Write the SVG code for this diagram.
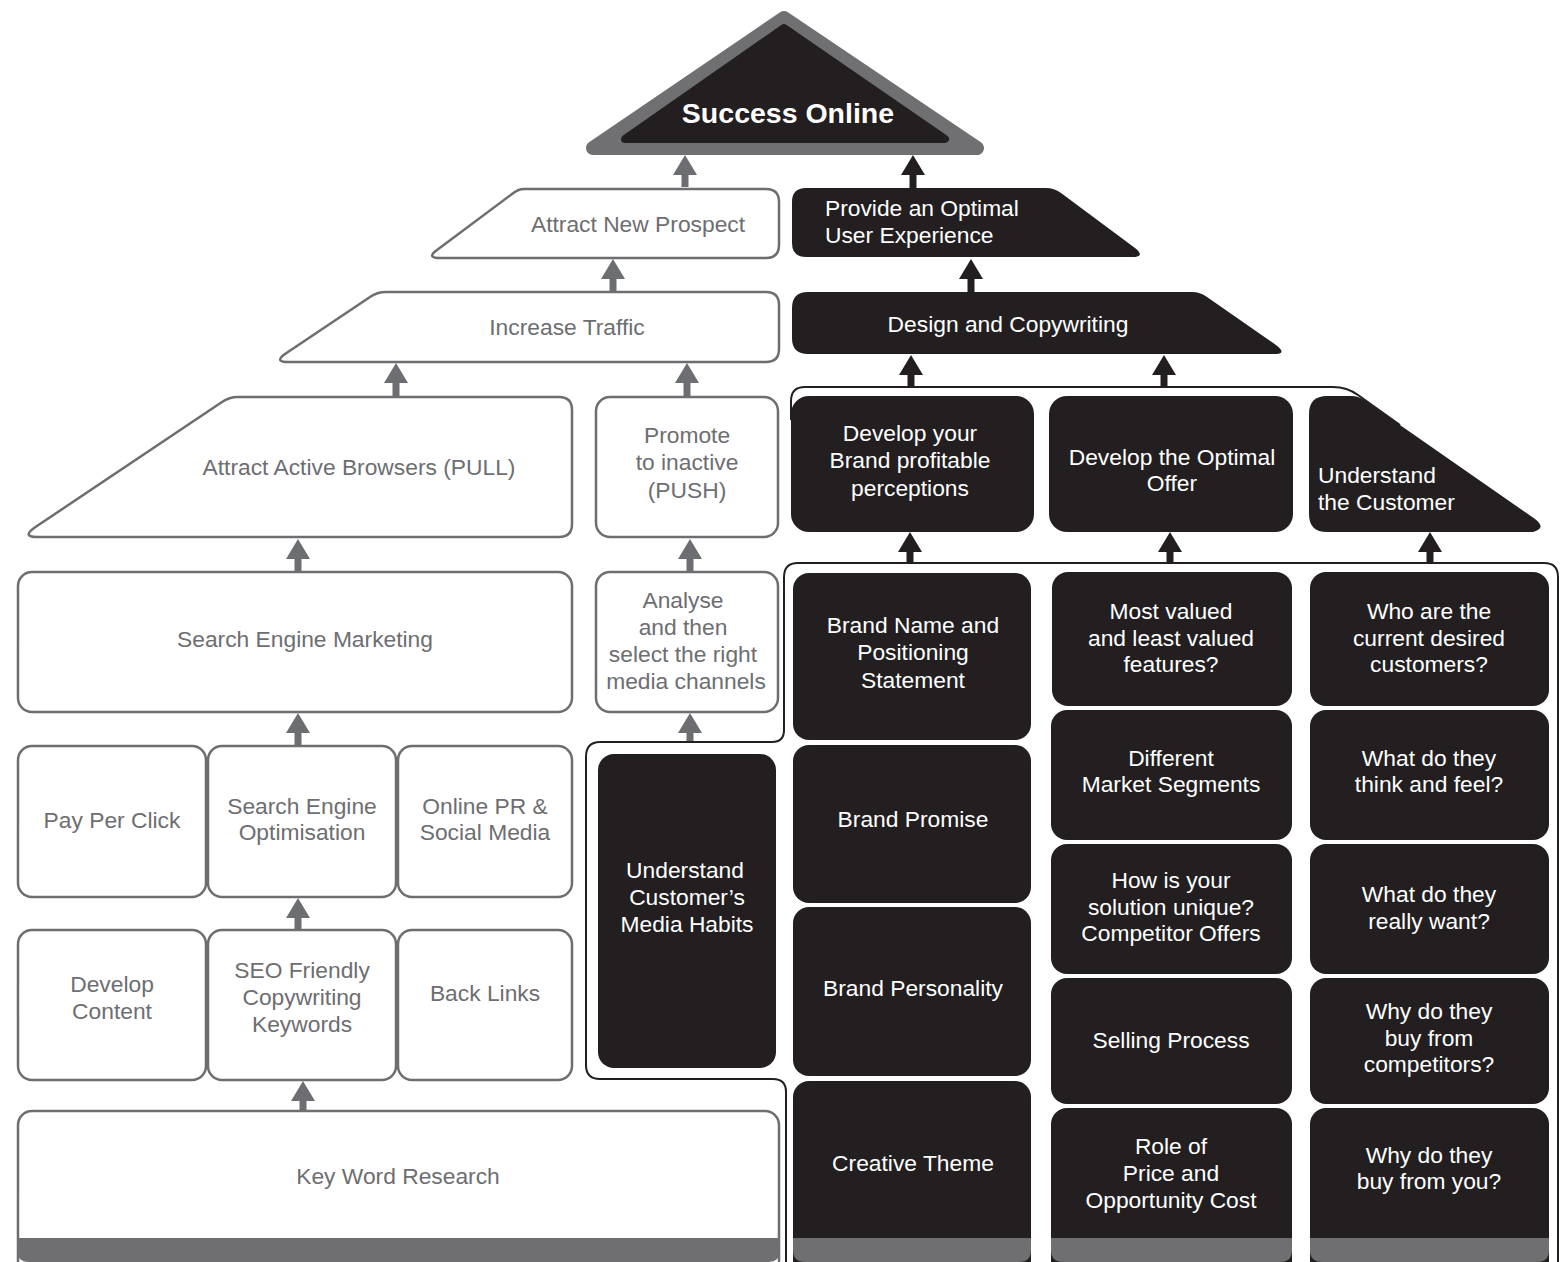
<svg xmlns="http://www.w3.org/2000/svg" width="1564" height="1262" viewBox="0 0 1564 1262">
<style>
.w{fill:#fff;stroke:#6d6e71;stroke-width:2.5}
.b{fill:#231f20}
.band{fill:#6f6f72}
.tg{font-family:"Liberation Sans",Arial,sans-serif;font-size:22.8px;fill:#6d6e71;text-anchor:middle}
.tw{font-family:"Liberation Sans",Arial,sans-serif;font-size:22.8px;fill:#fff;text-anchor:middle}
.tl{text-anchor:start}
.ag{fill:#6d6e71}
.ab{fill:#231f20}
.ol{fill:none;stroke:#231f20;stroke-width:2}
</style>
<rect width="1564" height="1262" fill="#fff"/>

<g id="roof">
<polygon points="593,148 784,18 977,148" fill="#707072" stroke="#707072" stroke-width="14" stroke-linejoin="round"/>
<polygon points="625,139 784,28 945,139" fill="#231f20" stroke="#231f20" stroke-width="8" stroke-linejoin="round"/>
<text x="788" y="123" font-family="Liberation Sans,Arial,sans-serif" font-size="28.5" font-weight="bold" fill="#fff" text-anchor="middle">Success Online</text>
</g>

<g id="connectors">
<path class="ag" d="M685,155 l12,20 h-8.5 v12 h-7 v-12 h-8.5z"/>
<path class="ag" d="M613,259 l12,20 h-8.5 v13 h-7 v-13 h-8.5z"/>
<path class="ag" d="M396,363 l12,20 h-8.5 v13 h-7 v-13 h-8.5z"/>
<path class="ag" d="M687,363 l12,20 h-8.5 v13 h-7 v-13 h-8.5z"/>
<path class="ag" d="M298,539 l12,20 h-8.5 v13 h-7 v-13 h-8.5z"/>
<path class="ag" d="M690,539 l12,20 h-8.5 v13 h-7 v-13 h-8.5z"/>
<path class="ag" d="M298,713 l12,20 h-8.5 v13 h-7 v-13 h-8.5z"/>
<path class="ag" d="M690,713 l12,20 h-8.5 v9 h-7 v-9 h-8.5z"/>
<path class="ag" d="M298,898 l12,20 h-8.5 v12 h-7 v-12 h-8.5z"/>
<path class="ag" d="M303,1081 l12,20 h-8.5 v9 h-7 v-9 h-8.5z"/>
<path class="ab" d="M913,155 l12,20 h-8.5 v13 h-7 v-13 h-8.5z"/>
<path class="ab" d="M971,259 l12,20 h-8.5 v13 h-7 v-13 h-8.5z"/>
<path class="ab" d="M911,355 l12,20 h-8.5 v12 h-7 v-12 h-8.5z"/>
<path class="ab" d="M1164,355 l12,20 h-8.5 v12 h-7 v-12 h-8.5z"/>
<path class="ab" d="M910,532 l12,20 h-8.5 v11 h-7 v-11 h-8.5z"/>
<path class="ab" d="M1170,532 l12,20 h-8.5 v11 h-7 v-11 h-8.5z"/>
<path class="ab" d="M1430,532 l12,20 h-8.5 v11 h-7 v-11 h-8.5z"/>
<path class="ol" d="M791,420 V401 Q791,387 805,387 H1333 Q1347,387 1358,395 L1400,425"/>
<path class="ol" d="M786,1262 V1092 Q786,1079 773,1079 H600 Q586,1079 586,1065 V757 Q586,742 600,742 H772 Q784,742 784,730 V577 Q784,563 798,563 H1544 Q1558,563 1558,577 V1262"/>
</g>

<g id="n-attract-new">
<path class="w" d="M524,189 H766 Q779,189 779,202 V245 Q779,258 766,258 H440 Q426,258 437,250 L512,194 Q518,189 524,189 Z"/>
<text class="tg" x="638" y="232">Attract New Prospect</text>
</g>
<g id="n-provide">
<path class="b" d="M806,188 H1046 Q1054,188 1061,193 L1135,248 Q1146,257 1132,257 H806 Q792,257 792,243 V202 Q792,188 806,188 Z"/>
<text class="tw tl" x="825" y="216">Provide an Optimal</text>
<text class="tw tl" x="825" y="243">User Experience</text>
</g>
<g id="n-traffic">
<path class="w" d="M386,292 H766 Q779,292 779,305 V349 Q779,362 766,362 H288 Q274,362 285,354 L370,297 Q377,292 386,292 Z"/>
<text class="tg" x="567" y="335">Increase Traffic</text>
</g>
<g id="n-design">
<path class="b" d="M808,292 H1192 Q1200,292 1207,297 L1276,345 Q1288,354 1274,354 H808 Q792,354 792,338 V308 Q792,292 808,292 Z"/>
<text class="tw" x="1008" y="332">Design and Copywriting</text>
</g>
<g id="n-pull">
<path class="w" d="M238,397 H559 Q572,397 572,410 V524 Q572,537 559,537 H37 Q22,537 34,528 L222,402 Q229,397 238,397 Z"/>
<text class="tg" x="359" y="475">Attract Active Browsers (PULL)</text>
</g>
<g id="n-push">
<rect class="w" x="596" y="397" width="182" height="140" rx="14"/>
<text class="tg" x="687" y="443">Promote</text>
<text class="tg" x="687" y="470">to inactive</text>
<text class="tg" x="687" y="498">(PUSH)</text>
</g>
<g id="n-brand">
<rect class="b" x="791" y="396" width="243" height="136" rx="18"/>
<text class="tw" x="910" y="441">Develop your</text>
<text class="tw" x="910" y="468">Brand profitable</text>
<text class="tw" x="910" y="496">perceptions</text>
</g>
<g id="n-offer">
<rect class="b" x="1049" y="396" width="244" height="136" rx="18"/>
<text class="tw" x="1172" y="465">Develop the Optimal</text>
<text class="tw" x="1172" y="491">Offer</text>
</g>
<g id="n-customer">
<path class="b" d="M1327,396 H1352 Q1358,396 1364,400 L1535,519 Q1547,528 1533,532 H1327 Q1309,532 1309,514 V414 Q1309,396 1327,396 Z"/>
<text class="tw tl" x="1318" y="483">Understand</text>
<text class="tw tl" x="1318" y="510">the Customer</text>
</g>

<g id="n-sem">
<rect class="w" x="18" y="572" width="554" height="140" rx="14"/>
<text class="tg" x="305" y="647">Search Engine Marketing</text>
</g>
<g id="n-analyse">
<rect class="w" x="596" y="572" width="182" height="140" rx="14"/>
<text class="tg" x="683" y="608">Analyse</text>
<text class="tg" x="683" y="635">and then</text>
<text class="tg" x="683" y="662">select the right</text>
<text class="tg" x="686" y="689">media channels</text>
</g>
<g id="n-ppc">
<rect class="w" x="18" y="746" width="188" height="151" rx="14"/>
<text class="tg" x="112" y="828">Pay Per Click</text>
</g>
<g id="n-seo">
<rect class="w" x="208" y="746" width="188" height="151" rx="14"/>
<text class="tg" x="302" y="814">Search Engine</text>
<text class="tg" x="302" y="840">Optimisation</text>
</g>
<g id="n-pr">
<rect class="w" x="398" y="746" width="174" height="151" rx="14"/>
<text class="tg" x="485" y="814">Online PR &amp;</text>
<text class="tg" x="485" y="840">Social Media</text>
</g>
<g id="n-content">
<rect class="w" x="18" y="930" width="188" height="150" rx="14"/>
<text class="tg" x="112" y="992">Develop</text>
<text class="tg" x="112" y="1019">Content</text>
</g>
<g id="n-seocopy">
<rect class="w" x="208" y="930" width="188" height="150" rx="14"/>
<text class="tg" x="302" y="978">SEO Friendly</text>
<text class="tg" x="302" y="1005">Copywriting</text>
<text class="tg" x="302" y="1032">Keywords</text>
</g>
<g id="n-backlinks">
<rect class="w" x="398" y="930" width="174" height="150" rx="14"/>
<text class="tg" x="485" y="1001">Back Links</text>
</g>
<g id="n-media">
<rect class="b" x="598" y="754" width="178" height="314" rx="16"/>
<text class="tw" x="685" y="878">Understand</text>
<text class="tw" x="687" y="905">Customer’s</text>
<text class="tw" x="687" y="932">Media Habits</text>
</g>
<g id="n-keyword">
<rect class="w" x="18" y="1111" width="761" height="165" rx="14"/>
<path class="band" d="M17,1238 H780 V1250 Q780,1262 768,1262 H29 Q17,1262 17,1250 Z"/>
<text class="tg" x="398" y="1184">Key Word Research</text>
</g>

<g id="n-brandname">
<rect class="b" x="793" y="573" width="238" height="167" rx="16"/>
<text class="tw" x="913" y="633">Brand Name and</text>
<text class="tw" x="913" y="660">Positioning</text>
<text class="tw" x="913" y="688">Statement</text>
</g>
<g id="n-promise">
<rect class="b" x="793" y="745" width="238" height="158" rx="16"/>
<text class="tw" x="913" y="827">Brand Promise</text>
</g>
<g id="n-personality">
<rect class="b" x="793" y="907" width="238" height="169" rx="16"/>
<text class="tw" x="913" y="996">Brand Personality</text>
</g>
<g id="n-creative">
<rect class="b" x="793" y="1081" width="238" height="200" rx="16"/>
<path class="band" d="M793,1238 H1031 V1250 Q1031,1262 1019,1262 H805 Q793,1262 793,1250 Z"/>
<text class="tw" x="913" y="1171">Creative Theme</text>
</g>

<g id="n-features">
<rect class="b" x="1052" y="572" width="240" height="134" rx="16"/>
<text class="tw" x="1171" y="619">Most valued</text>
<text class="tw" x="1171" y="646">and least valued</text>
<text class="tw" x="1171" y="672">features?</text>
</g>
<g id="n-segments">
<rect class="b" x="1051" y="710" width="241" height="130" rx="16"/>
<text class="tw" x="1171" y="766">Different</text>
<text class="tw" x="1171" y="792">Market Segments</text>
</g>
<g id="n-unique">
<rect class="b" x="1051" y="844" width="241" height="130" rx="16"/>
<text class="tw" x="1171" y="888">How is your</text>
<text class="tw" x="1171" y="915">solution unique?</text>
<text class="tw" x="1171" y="941">Competitor Offers</text>
</g>
<g id="n-selling">
<rect class="b" x="1051" y="978" width="241" height="126" rx="16"/>
<text class="tw" x="1171" y="1048">Selling Process</text>
</g>
<g id="n-price">
<rect class="b" x="1051" y="1108" width="241" height="170" rx="16"/>
<path class="band" d="M1051,1238 H1292 V1250 Q1292,1262 1280,1262 H1063 Q1051,1262 1051,1250 Z"/>
<text class="tw" x="1171" y="1154">Role of</text>
<text class="tw" x="1171" y="1181">Price and</text>
<text class="tw" x="1171" y="1208">Opportunity Cost</text>
</g>

<g id="n-who">
<rect class="b" x="1310" y="572" width="239" height="134" rx="16"/>
<text class="tw" x="1429" y="619">Who are the</text>
<text class="tw" x="1429" y="646">current desired</text>
<text class="tw" x="1429" y="672">customers?</text>
</g>
<g id="n-think">
<rect class="b" x="1310" y="710" width="239" height="130" rx="16"/>
<text class="tw" x="1429" y="766">What do they</text>
<text class="tw" x="1429" y="792">think and feel?</text>
</g>
<g id="n-want">
<rect class="b" x="1310" y="844" width="239" height="130" rx="16"/>
<text class="tw" x="1429" y="902">What do they</text>
<text class="tw" x="1429" y="929">really want?</text>
</g>
<g id="n-competitors">
<rect class="b" x="1310" y="978" width="239" height="126" rx="16"/>
<text class="tw" x="1429" y="1019">Why do they</text>
<text class="tw" x="1429" y="1046">buy from</text>
<text class="tw" x="1429" y="1072">competitors?</text>
</g>
<g id="n-you">
<rect class="b" x="1310" y="1108" width="239" height="170" rx="16"/>
<path class="band" d="M1310,1238 H1549 V1250 Q1549,1262 1537,1262 H1322 Q1310,1262 1310,1250 Z"/>
<text class="tw" x="1429" y="1163">Why do they</text>
<text class="tw" x="1429" y="1189">buy from you?</text>
</g>
</svg>
